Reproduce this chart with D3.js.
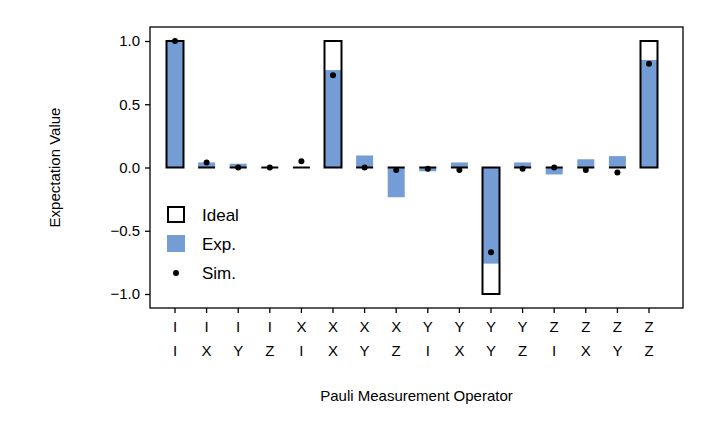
<!DOCTYPE html><html><head><meta charset="utf-8"><script src="https://cdn.jsdelivr.net/npm/d3@7"></script>
<style>body{margin:0;background:#fff}svg text{font-family:"Liberation Sans",Arial,sans-serif;font-size:15px}</style></head><body><svg id="c" width="714" height="425"></svg>
<script>
const labels=["II","IX","IY","IZ","XI","XX","XY","XZ","YI","YX","YY","YZ","ZI","ZX","ZY","ZZ"];
const ideal=[1,0,0,0,0,1,0,0,0,0,-1,0,0,0,0,1];
const expv=[1.0,0.04,0.03,0.0,0.0,0.77,0.095,-0.235,-0.03,0.04,-0.76,0.04,-0.055,0.065,0.09,0.85];
const sim=[1.0,0.04,0.0,0.0,0.05,0.73,0.0,-0.02,-0.01,-0.02,-0.67,-0.01,0.0,-0.02,-0.04,0.82];
const yTicks=[1.0,0.5,0.0,-0.5,-1.0];
const svg=d3.select("#c");
const L=150,R=683,T=27,B=308;
const x=d3.scalePoint().domain(labels).range([175,649]);
const bw=17;
const y=d3.scaleLinear().domain([-1,1]).range([294,41]);
const g=svg.append("g");
g.selectAll(".e").data(expv).join("rect").attr("x",(d,i)=>x(labels[i])-bw/2).attr("width",bw)
 .attr("y",d=>y(Math.max(0,d))).attr("height",d=>Math.abs(y(d)-y(0))).attr("fill","#739dd4");
g.selectAll(".i").data(ideal).join("path")
 .attr("d",(d,i)=>{const x0=x(labels[i])-bw/2,y0=y(0),y1=y(d);return d===0?`M${x0},${y0}h${bw}`:`M${x0},${y0}V${y1}h${bw}V${y0}Z`;})
 .attr("fill","none").attr("stroke","#000").attr("stroke-width",2);
g.selectAll(".s").data(sim).join("circle").attr("cx",(d,i)=>x(labels[i])).attr("cy",d=>y(d)).attr("r",3).attr("fill","#000");
svg.append("rect").attr("x",L).attr("y",T).attr("width",R-L).attr("height",B-T).attr("fill","none").attr("stroke","#000").attr("stroke-width",1.3);
const ya=svg.append("g").attr("transform",`translate(${L},0)`).call(d3.axisLeft(y).tickValues(yTicks).tickSize(5).tickFormat(d=>d3.format(".1f")(d).replace("-","\u2212")));
ya.select(".domain").remove();ya.selectAll("text").style("font-size","15px").attr("fill","#000").attr("dx",-2);
ya.selectAll("line").attr("stroke-width",1.3);
labels.forEach((l,i)=>{
 svg.append("line").attr("x1",x(l)).attr("x2",x(l)).attr("y1",B).attr("y2",B+5).attr("stroke","#000").attr("stroke-width",1.3);
 [l[0],l[1]].forEach((c,k)=>svg.append("text").attr("x",x(l)).attr("y",B+24+k*24).attr("text-anchor","middle").text(c));
});
svg.append("text").attr("x",(L+R)/2).attr("y",401).attr("text-anchor","middle").text("Pauli Measurement Operator");
svg.append("text").attr("transform",`translate(60,${(T+B)/2}) rotate(-90)`).attr("text-anchor","middle").text("Expectation Value");
const lg=svg.append("g");
lg.append("rect").attr("x",168).attr("y",207).attr("width",16).attr("height",15).attr("fill","none").attr("stroke","#000").attr("stroke-width",2);
lg.append("rect").attr("x",167).attr("y",235).attr("width",18).attr("height",17).attr("fill","#739dd4");
lg.append("circle").attr("cx",176).attr("cy",273).attr("r",3);
[["Ideal",221],["Exp.",250],["Sim.",279]].forEach(([t,yy])=>lg.append("text").attr("x",202).attr("y",yy).style("font-size","17px").text(t));
</script></body></html>
